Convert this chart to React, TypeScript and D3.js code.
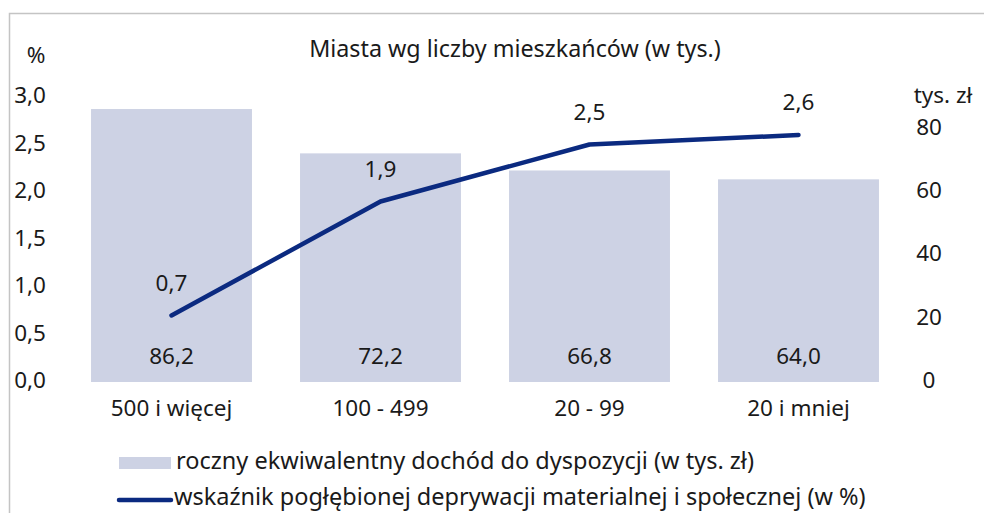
import React from "react";
import * as d3 from "d3";

const categories = ["500 i więcej", "100 - 499", "20 - 99", "20 i mniej"];
const income = [86.2, 72.2, 66.8, 64.0];
const deprivation = [0.7, 1.9, 2.5, 2.6];
const leftTicks = [0, 0.5, 1, 1.5, 2, 2.5, 3];
const rightTicks = [0, 20, 40, 60, 80];

const W = 984;
const H = 513;
const FONT = "'Noto Sans', 'Open Sans', sans-serif";
const TEXT = "#1a1a1a";
const BAR = "#cdd2e4";
const LINE = "#0b2a80";
const FS = 22.5;
const LFS = 23.5;

const fmt = (v: number, d: number) => v.toFixed(d).replace(".", ",");

export default function App() {
  const x = d3
    .scaleBand<string>()
    .domain(categories)
    .range([67, 903])
    .paddingInner(0.23)
    .paddingOuter(0.115);
  const yL = d3.scaleLinear().domain([0, 3]).range([382, 97]);
  const yR = d3.scaleLinear().domain([0, 90]).range([382, 97]);
  const bw = x.bandwidth();
  const cx = (c: string) => (x(c) ?? 0) + bw / 2;

  const line = d3
    .line<number>()
    .x((_, i) => cx(categories[i]))
    .y((d) => yL(d));

  return (
    <svg
      width={W}
      height={H}
      style={{ position: "absolute", left: 0, top: 0, background: "#fff" }}
      fontFamily={FONT}
    >
      <rect x={0} y={0} width={W} height={H} fill="#fff" />
      <path d={`M9.5,${H} V13.5 H${W}`} fill="none" stroke="#c4c4c4" strokeWidth={1.5} />

      <text x={515} y={57} textAnchor="middle" fontSize={23.3} fill={TEXT}>
        Miasta wg liczby mieszkańców (w tys.)
      </text>
      <text x={36} y={57} textAnchor="middle" dominantBaseline="middle" fontSize={FS} fill={TEXT}>
        %
      </text>
      <text x={943} y={97} textAnchor="middle" dominantBaseline="middle" fontSize={FS} fill={TEXT}>
        tys. zł
      </text>

      {categories.map((c, i) => (
        <rect
          key={c}
          x={x(c)}
          y={yR(income[i])}
          width={bw}
          height={yR(0) - yR(income[i])}
          fill={BAR}
        />
      ))}

      {leftTicks.map((t) => (
        <text
          key={t}
          x={46}
          y={yL(t)}
          textAnchor="end"
          dominantBaseline="middle"
          fontSize={FS}
          fill={TEXT}
        >
          {fmt(t, 1)}
        </text>
      ))}
      {rightTicks.map((t) => (
        <text
          key={t}
          x={929}
          y={yR(t)}
          textAnchor="middle"
          dominantBaseline="middle"
          fontSize={FS}
          fill={TEXT}
        >
          {t}
        </text>
      ))}

      {categories.map((c) => (
        <text
          key={c}
          x={cx(c)}
          y={410}
          textAnchor="middle"
          dominantBaseline="middle"
          fontSize={FS}
          fill={TEXT}
        >
          {c}
        </text>
      ))}

      {categories.map((c, i) => (
        <text
          key={c}
          x={cx(c)}
          y={358}
          textAnchor="middle"
          dominantBaseline="middle"
          fontSize={FS}
          fill={TEXT}
        >
          {fmt(income[i], 1)}
        </text>
      ))}

      <path
        d={line(deprivation) ?? ""}
        fill="none"
        stroke={LINE}
        strokeWidth={4.5}
        strokeLinecap="round"
        strokeLinejoin="round"
      />

      {categories.map((c, i) => (
        <text
          key={c}
          x={cx(c)}
          y={yL(deprivation[i]) - 31}
          textAnchor="middle"
          dominantBaseline="middle"
          fontSize={FS}
          fill={TEXT}
        >
          {fmt(deprivation[i], 1)}
        </text>
      ))}

      <rect x={119} y={457} width={52} height={12} fill={BAR} />
      <text x={176} y={463} dominantBaseline="middle" fontSize={LFS} fill={TEXT}>
        roczny ekwiwalentny dochód do dyspozycji (w tys. zł)
      </text>
      <line x1={119} x2={171} y1={500} y2={500} stroke={LINE} strokeWidth={4.5} strokeLinecap="round" />
      <text x={174} y={499} dominantBaseline="middle" fontSize={LFS} fill={TEXT}>
        wskaźnik pogłębionej deprywacji materialnej i społecznej (w %)
      </text>
    </svg>
  );
}
